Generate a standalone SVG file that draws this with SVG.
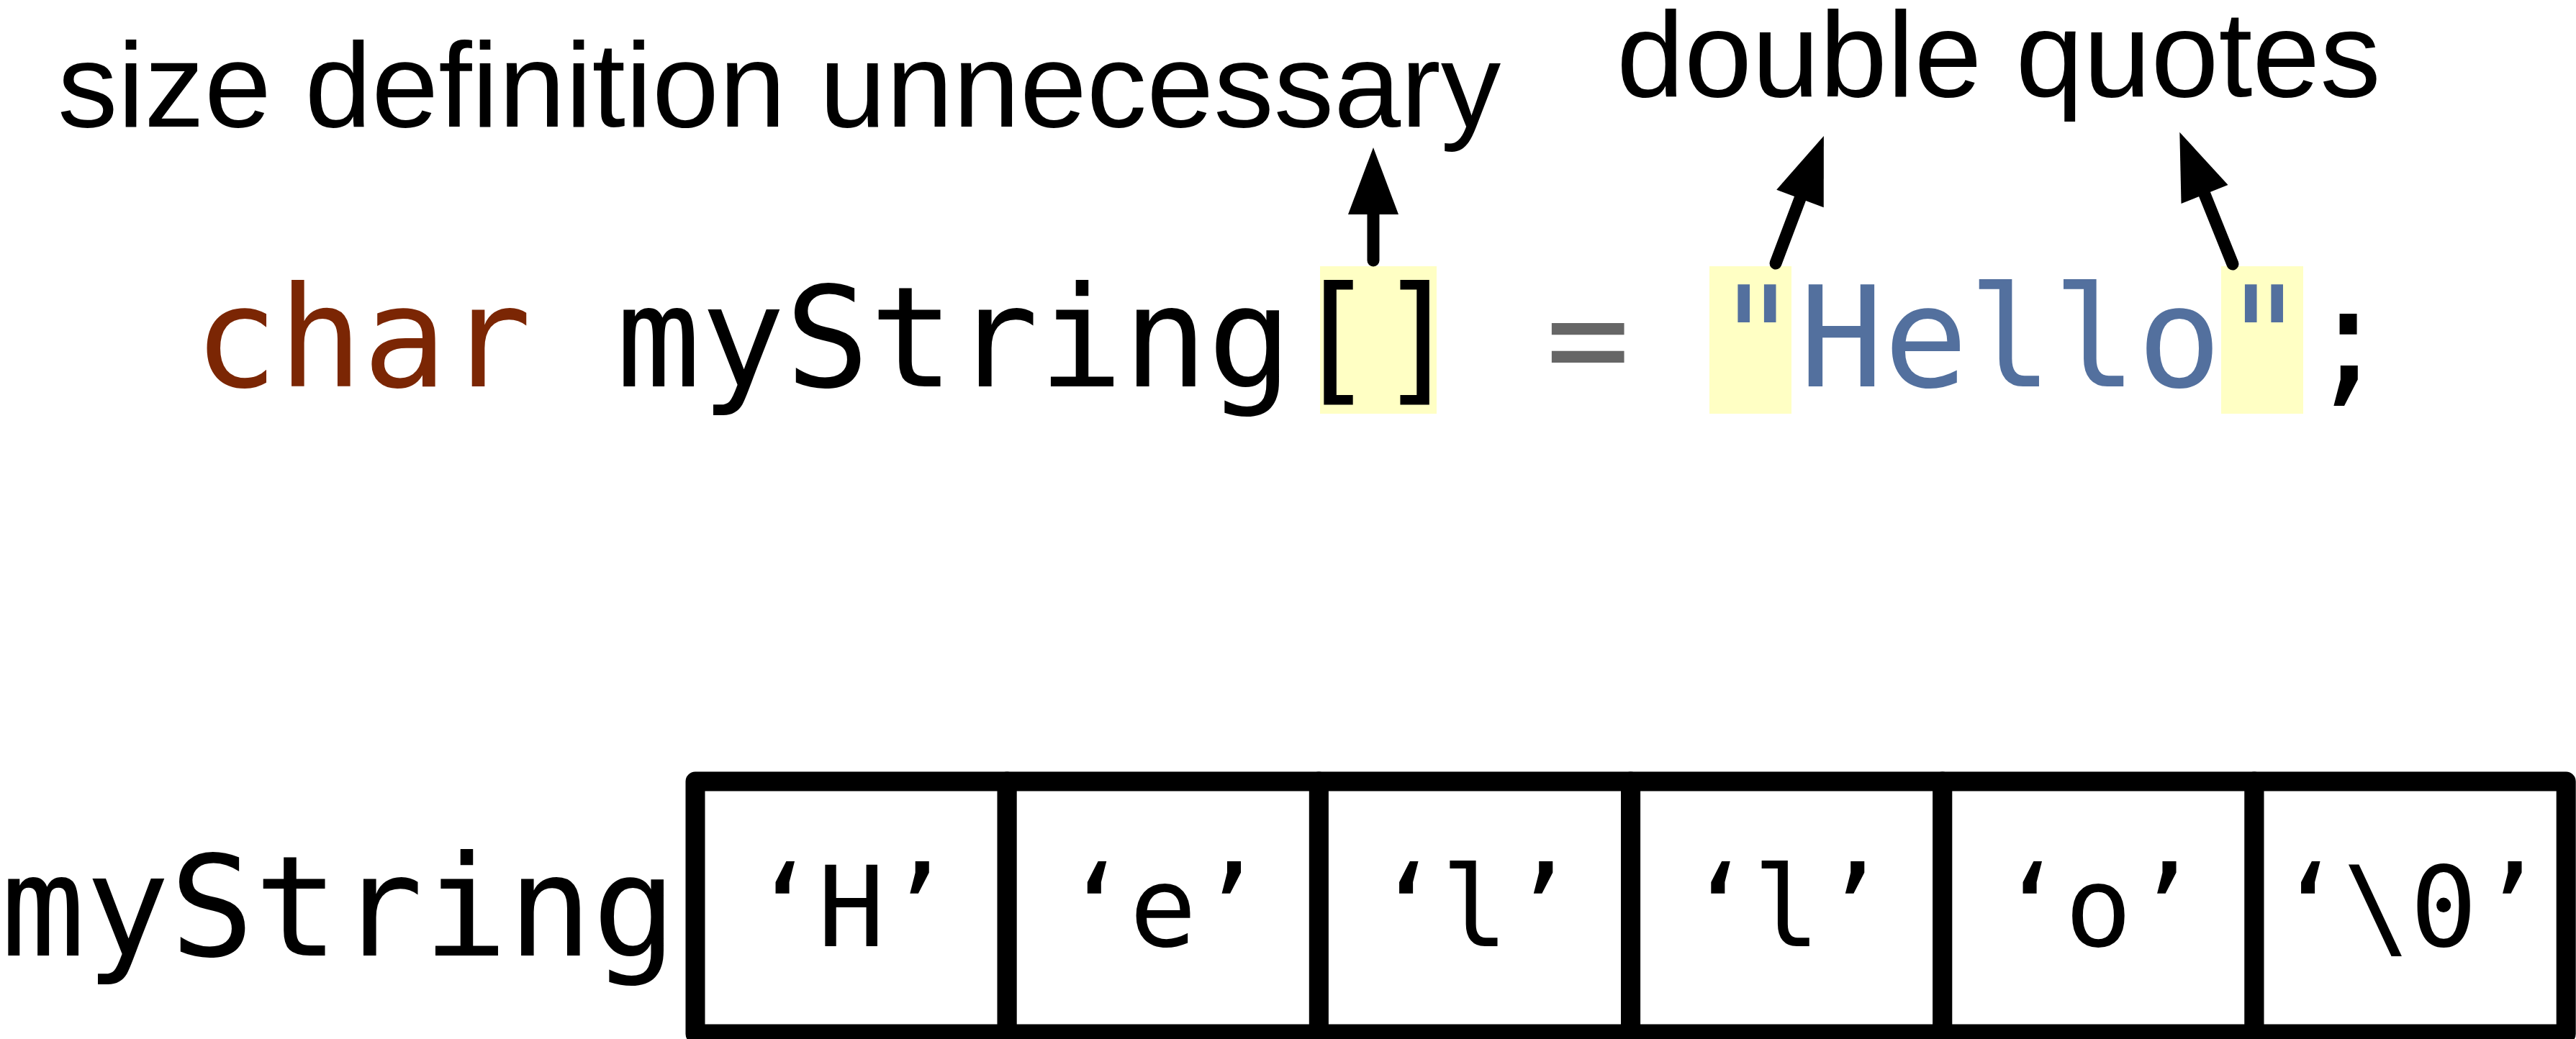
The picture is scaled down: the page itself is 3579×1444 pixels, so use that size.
<svg xmlns="http://www.w3.org/2000/svg" width="3579" height="1444" viewBox="0 0 3579 1444">
<style>
.label{font-family:"Liberation Sans",Arial,Helvetica,sans-serif;font-size:167px;fill:#000}
.code{font-family:"DejaVu Sans Mono","Liberation Mono",monospace;font-size:195px;fill:#000}
.cell rect{fill:#fff;stroke:#000;stroke-width:27;stroke-linejoin:round}
.cell text{font-family:"DejaVu Sans Mono","Liberation Mono",monospace;font-size:155px;fill:#000;text-anchor:middle}
.hl{fill:#FFFFC4}
.conn line{stroke:#000;stroke-width:17;stroke-linecap:round}
</style>
<defs>
<marker id="ah" markerUnits="userSpaceOnUse" markerWidth="94" markerHeight="72" refX="0" refY="35" orient="auto" overflow="visible">
<path d="M0,0 L93,35 L0,70 Z" fill="#000"/>
</marker>
</defs>
<rect width="3579" height="1444" fill="#fff"/>
<g id="label-size">
<text class="label" x="80" y="176">size definition unnecessary</text>
</g>
<g id="label-quotes">
<text class="label" x="2246" y="134" style="font-size:169px">double quotes</text>
</g>
<g id="code-line">
<rect class="hl" x="1834" y="370" width="162" height="205"/>
<rect class="hl" x="2375" y="370" width="114" height="205"/>
<rect class="hl" x="3086" y="370" width="114" height="205"/>
<text class="code" x="269" y="537"><tspan fill="#7B2604">char</tspan> myString[] <tspan fill="#666666">=</tspan> <tspan fill="#53709E">"Hello"</tspan>;</text>
</g>
<g id="connectors" class="conn">
<line x1="1908" y1="362" x2="1908" y2="298" marker-end="url(#ah)"/>
<line x1="2467" y1="366" x2="2501" y2="276" marker-end="url(#ah)"/>
<line x1="3102" y1="367" x2="3063" y2="270" marker-end="url(#ah)"/>
</g>
<g id="array-name">
<text class="code" x="1" y="1328">myString</text>
</g>
<g id="cell-0" class="cell"><rect x="966" y="1086" width="433.2" height="351"/><text x="1182.6" y="1315">‘H’</text></g>
<g id="cell-1" class="cell"><rect x="1399.2" y="1086" width="433.2" height="351"/><text x="1615.8" y="1315">‘e’</text></g>
<g id="cell-2" class="cell"><rect x="1832.4" y="1086" width="433.2" height="351"/><text x="2049" y="1315">‘l’</text></g>
<g id="cell-3" class="cell"><rect x="2265.6" y="1086" width="433.2" height="351"/><text x="2482.2" y="1315">‘l’</text></g>
<g id="cell-4" class="cell"><rect x="2698.8" y="1086" width="433.2" height="351"/><text x="2915.4" y="1315">‘o’</text></g>
<g id="cell-5" class="cell"><rect x="3132" y="1086" width="433.2" height="351"/><text x="3348.6" y="1315">‘\0’</text></g>
</svg>
